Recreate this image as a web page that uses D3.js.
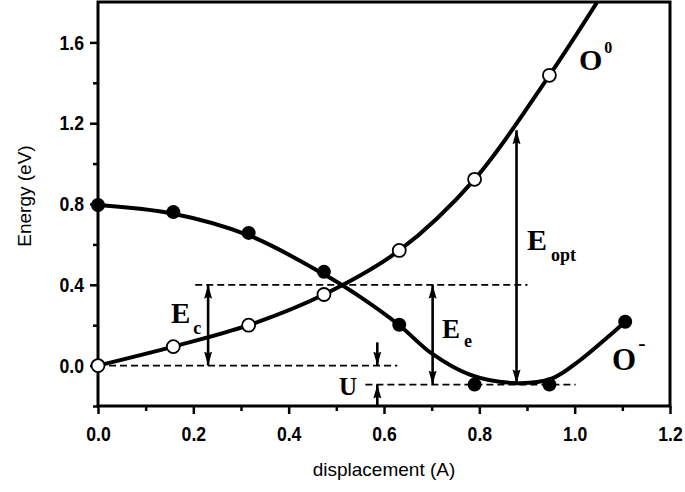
<!DOCTYPE html>
<html>
<head>
<meta charset="utf-8">
<script src="https://cdn.jsdelivr.net/npm/d3@7"></script>
<style>
  body { margin: 0; background: #fff; }
  .tick text { font-family: "Liberation Sans", Arial, sans-serif; font-weight: bold; font-size: 21px; fill: #000; }
  .axis-title { font-family: "Liberation Sans", Arial, sans-serif; font-size: 19px; fill: #000; }
  .ann { font-family: "Liberation Serif", "Times New Roman", serif; font-weight: bold; fill: #000; }
</style>
</head>
<body>
<div id="chart"></div>
<script>
// calculated points (displacement in A, energy in eV)
const xSteps = [0, 0.158, 0.316, 0.474, 0.632, 0.79, 0.947, 1.106];
const neutralE = [0.0, 0.094, 0.2, 0.352, 0.57, 0.922, 1.437];
const chargedE = [0.795, 0.76, 0.657, 0.464, 0.202, -0.094, -0.094, 0.217];

// fitted curves
const neutralFitX = [0, 0.158, 0.316, 0.474, 0.632, 0.79, 0.947, 1.05];
const neutralFitE = [0.0, 0.094, 0.2, 0.352, 0.57, 0.922, 1.437, 1.81];
const chargedFitX = [0, 0.158, 0.316, 0.474, 0.55, 0.632, 0.70, 0.78, 0.87, 0.95, 1.013, 1.069, 1.106];
const chargedFitE = [0.795, 0.752, 0.645, 0.452, 0.34, 0.2, 0.06, -0.045, -0.086, -0.066, 0.03, 0.14, 0.217];

// dashed reference levels: [energy, x from, x to]
const levels = [[0.0, 0.0, 0.628], [0.4, 0.204, 0.901], [-0.094, 0.561, 1.002]];
// arrows: [x, from E, to E, two heads]
const arrows = [[0.231, 0.0, 0.4, true], [0.702, -0.094, 0.4, true], [0.878, -0.088, 1.165, true],
                [0.586, 0.115, 0.0, false], [0.586, -0.2, -0.094, false]];

const xTicks = [0, 0.2, 0.4, 0.6, 0.8, 1.0, 1.2];
const xMinor = [0.1, 0.3, 0.5, 0.7, 0.9, 1.1];
const yTicks = [0.0, 0.4, 0.8, 1.2, 1.6];
const yMinor = [-0.2, 0.2, 0.6, 1.0, 1.4];

const margin = { top: 2, right: 15, bottom: 86, left: 98 },
    width = 572,
    height = 404;

const svg = d3.select("#chart")
    .append("svg")
    .attr("width", width + margin.left + margin.right)
    .attr("height", height + margin.top + margin.bottom);

const defs = svg.append("defs");
defs.append("clipPath").attr("id", "clip")
    .append("rect").attr("width", width).attr("height", height);
defs.append("marker")
    .attr("id", "head")
    .attr("markerUnits", "userSpaceOnUse")
    .attr("viewBox", "0 -5 14 10")
    .attr("refX", 14).attr("refY", 0)
    .attr("markerWidth", 14).attr("markerHeight", 10)
    .attr("orient", "auto-start-reverse")
    .append("path")
    .attr("d", "M0,-4L14,0L0,4L2,0Z")
    .attr("fill", "#000");

const chart = svg.append("g")
    .attr("transform", `translate(${margin.left},${margin.top})`);

const x = d3.scaleLinear().domain([0, 1.2]).range([0, width]);
const y = d3.scaleLinear().domain([-0.2, 1.8]).range([height, 0]);

// axes
chart.append("g")
    .attr("transform", `translate(0,${height})`)
    .call(d3.axisBottom(x).tickValues(xTicks).tickSize(8).tickPadding(12).tickFormat(d3.format(".1f")));
chart.append("g")
    .attr("transform", `translate(0,${height})`)
    .call(d3.axisBottom(x).tickValues(xMinor).tickSize(5).tickFormat(""));
chart.append("g")
    .call(d3.axisLeft(y).tickValues(yTicks).tickSize(8).tickPadding(6).tickFormat(d3.format(".1f")));
chart.append("g")
    .call(d3.axisLeft(y).tickValues(yMinor).tickSize(5).tickFormat(""));
chart.selectAll(".domain").remove();
chart.selectAll(".tick line").attr("stroke", "#000").attr("stroke-width", 2.5);

// condensed look of the tick labels
const squeeze = 0.84;
chart.selectAll(".tick text").each(function () {
    const t = d3.select(this);
    t.attr("x", (+t.attr("x") || 0) / squeeze).attr("transform", `scale(${squeeze},1)`);
});

chart.append("rect")
    .attr("width", width).attr("height", height)
    .attr("fill", "none").attr("stroke", "#000").attr("stroke-width", 3);

// dashed levels
chart.selectAll(".level")
    .data(levels)
    .enter()
    .append("line")
    .attr("x1", d => x(d[1])).attr("x2", d => x(d[2]))
    .attr("y1", d => y(d[0])).attr("y2", d => y(d[0]))
    .attr("stroke", "#000").attr("stroke-width", 1.8)
    .attr("stroke-dasharray", "7,4");

// curves
const line = d3.line().x(d => x(d[0])).y(d => y(d[1])).curve(d3.curveCatmullRom.alpha(0.5));
const curves = chart.append("g").attr("clip-path", "url(#clip)");
curves.append("path")
    .attr("d", line(neutralFitX.map((v, i) => [v, neutralFitE[i]])))
    .attr("fill", "none").attr("stroke", "#000").attr("stroke-width", 4);
curves.append("path")
    .attr("d", line(chargedFitX.map((v, i) => [v, chargedFitE[i]])))
    .attr("fill", "none").attr("stroke", "#000").attr("stroke-width", 4);

// arrows
chart.selectAll(".arrow")
    .data(arrows)
    .enter()
    .append("line")
    .attr("x1", d => x(d[0])).attr("x2", d => x(d[0]))
    .attr("y1", d => y(d[1])).attr("y2", d => y(d[2]))
    .attr("stroke", "#000").attr("stroke-width", 2.6)
    .attr("marker-end", "url(#head)")
    .attr("marker-start", d => d[3] ? "url(#head)" : null);

// markers
chart.selectAll(".dot-c")
    .data(chargedE)
    .enter()
    .append("circle")
    .attr("cx", (d, i) => x(xSteps[i]))
    .attr("cy", d => y(d))
    .attr("r", 7)
    .attr("fill", "#000");
chart.selectAll(".dot-n")
    .data(neutralE)
    .enter()
    .append("circle")
    .attr("cx", (d, i) => x(xSteps[i]))
    .attr("cy", d => y(d))
    .attr("r", 6.5)
    .attr("fill", "#fff")
    .attr("stroke", "#000")
    .attr("stroke-width", 1.8);

// annotation labels
function label(px, py, main, sub, subDx, subDy, size, subSize) {
    const t = svg.append("text").attr("class", "ann").attr("x", px).attr("y", py).style("font-size", size + "px").text(main);
    t.append("tspan").attr("dx", subDx).attr("dy", subDy).style("font-size", subSize + "px").text(sub);
    return t;
}
label(171, 323, "E", "c", 3, 11, 29, 18);
label(442, 338, "E", "e", 4, 9, 27, 18);
label(527, 250, "E", "opt", 4, 11, 30, 18);
label(339, 395, "U", "", 0, 0, 25, 16);
label(579, 70, "O", "0", 2, -17, 30, 16);
label(612, 370, "O", "-", 2, -20, 31, 22);

// axis titles
svg.append("text")
    .attr("class", "axis-title")
    .attr("x", 384).attr("y", 476)
    .attr("text-anchor", "middle")
    .text("displacement (A)");
svg.append("text")
    .attr("class", "axis-title")
    .attr("transform", "translate(31,196) rotate(-90)")
    .attr("text-anchor", "middle")
    .text("Energy (eV)");
</script>
</body>
</html>
